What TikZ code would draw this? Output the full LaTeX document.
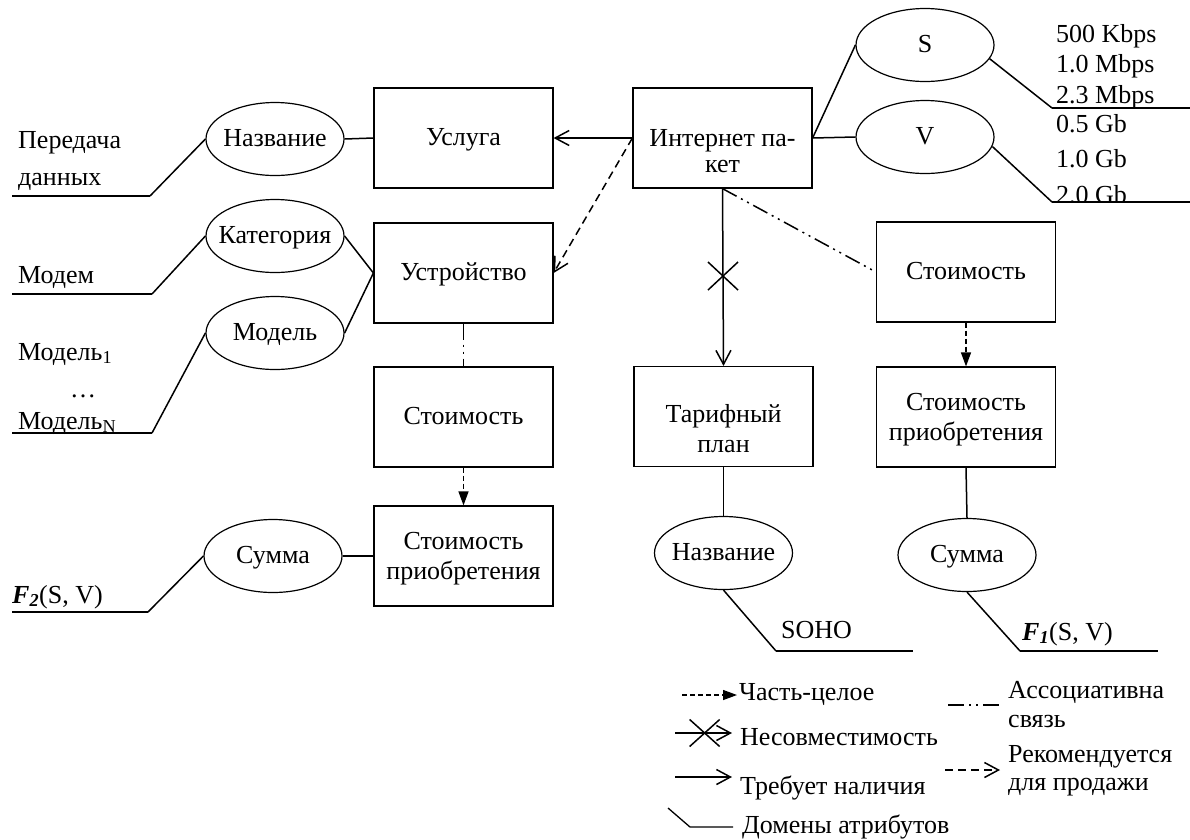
\documentclass[tikz,border=0pt]{standalone}
\usepackage{fontspec}
\setmainfont{Liberation Serif}
\usetikzlibrary{arrows.meta,shapes.geometric}

% centred / left-aligned stacks of lines; the baseline is that of the first line
\newcommand\stackc[2][30pt]{\vtop{\baselineskip=#1\relax\halign{\hfil##\hfil\cr#2\crcr}}}
\newcommand\stackl[2][30pt]{\vtop{\baselineskip=#1\relax\halign{##\hfil\cr#2\crcr}}}
% zero-width text, so that an ellipse keeps its own size
\newcommand\zw[1]{\makebox[0pt]{#1}}

\begin{document}
\begin{tikzpicture}[x=1pt,y=-1pt,
  font=\fontsize{26}{30}\selectfont,
  box/.style={draw,line width=1.2pt,minimum width=179pt,minimum height=100pt,inner sep=0pt,
              text height=18pt,text depth=4pt},
  box2/.style={box,text height=20pt,text depth=34pt},
  attr/.style={draw,ellipse,line width=1.2pt,minimum width=138pt,minimum height=73pt,inner sep=0pt,
               text height=18pt,text depth=4pt},
  txt/.style={inner sep=0pt,anchor=base},
  txtl/.style={inner sep=0pt,anchor=base west},
  link/.style={line width=1.5pt},
  dom/.style={line width=2.8pt},
  barb/.style={-{Straight Barb[length=14pt,width=15pt]}},
  part/.style={line width=1.3pt,dash pattern=on 5pt off 3pt,-{Triangle[length=14pt,width=10pt]}},
  rec/.style={line width=1.5pt,dash pattern=on 8pt off 5pt,barb},
  assoc/.style={line width=1.5pt,dash pattern=on 16pt off 5pt on 2pt off 5pt on 2pt off 5pt},
]
\useasboundingbox (0,0) rectangle (1190,839);

% entities
\node[box] (usluga)   at (463.5,138) {Услуга};
\node[box2,text height=46pt,text depth=30pt] (internet) at (722.5,138) {\stackc[26pt]{Интернет па-\cr кет}};
\node[box] (device)   at (463.5,273) {Устройство};
\node[box] (costL)    at (463.5,417) {Стоимость};
\node[box2] (buyL)    at (463.5,556) {\stackc{Стоимость\cr приобретения}};
\node[box2,text height=45pt] (tarif) at (723.5,416.5) {\stackc{Тарифный\cr план}};
\node[box] (costR)    at (966,272) {Стоимость};
\node[box2] (buyR)    at (966,417) {\stackc{Стоимость\cr приобретения}};

% attributes
\node[attr] (nameT) at (275,139) {\zw{Название}};
\node[attr] (categ) at (275,236) {\zw{Категория}};
\node[attr] (model) at (275,333) {\zw{Модель}};
\node[attr] (sumL)  at (273,556) {\zw{Сумма}};
\node[attr] (S)     at (925,45)  {\zw{S}};
\node[attr] (V)     at (925,137) {\zw{V}};
\node[attr] (nameB) at (723.5,553) {\zw{Название}};
\node[attr] (sumR)  at (967,555) {\zw{Сумма}};

% relations between entities
\draw[link,barb] (internet.west) -- (usluga.east);
\draw[rec] (internet.west) -- (device.east);
\draw[link,barb] (internet.south) -- coordinate[pos=0.493] (xmark) (tarif.north);
\draw[link] ([shift={(-15,-14)}]xmark) -- ([shift={(15,14)}]xmark);
\draw[link] ([shift={(-15,14)}]xmark) -- ([shift={(15,-14)}]xmark);
\draw[assoc] (internet.south) -- (costR.west);
\draw[assoc] (device.south) -- (costL.north);
\draw[part] (costL.south) -- (buyL.north);
\draw[part] (costR.south) -- (buyR.north);

% entity -- attribute links
\draw[link] (usluga.west) -- (nameT.east);
\draw[link] (device.west) -- (categ.east);
\draw[link] (device.west) -- (model.east);
\draw[link] (buyL.west) -- (sumL.east);
\draw[link] (tarif.south) -- (nameB.north);
\draw[link] (buyR.south) -- (sumR.north);
\draw[link] (internet.east) -- (S.west);
\draw[link] (internet.east) -- (V.west);

% attribute domains
\coordinate (d1) at (150,196);  \coordinate (d1e) at (12,196);
\coordinate (d2) at (152,294);  \coordinate (d2e) at (12,294);
\coordinate (d3) at (152,433);  \coordinate (d3e) at (12,433);
\coordinate (d4) at (148,612);  \coordinate (d4e) at (12,612);
\coordinate (d5) at (776,651);  \coordinate (d5e) at (913,651);
\coordinate (d6) at (1020,651); \coordinate (d6e) at (1158,651);
\coordinate (d7) at (1052,108); \coordinate (d7e) at (1190,108);
\coordinate (d8) at (1052,202); \coordinate (d8e) at (1190,202);

\node[txtl] (t-pd1)   at (18,148) {Передача};
\node[txtl] (t-pd2)   at (18,185) {данных};
\node[txtl] (t-modem) at (18,283) {Модем};
\node[txtl] (t-m1)    at (18,360) {Модель\textsubscript{1}};
\node[txt]  (t-dots)  at (83,397) {…};
\node[txtl] (t-mn)    at (18,429) {Модель\textsubscript{N}};
\node[txtl] (t-f2)    at (12,603) {\textbf{\textit{F}}\textsubscript{\textbf{\textit{2}}}(S, V)};
\node[txtl] (t-soho)  at (781,638) {SOHO};
\node[txtl] (t-f1)    at (1022,640) {\textbf{\textit{F}}\textsubscript{\textbf{\textit{1}}}(S, V)};
\node[txtl] (t-s)     at (1056,42) {\stackl[30.5pt]{500 Kbps\cr 1.0 Mbps\cr 2.3 Mbps}};
\begin{scope}
  \clip (1040,110) rectangle (1190,200.5);
  \node[txtl] (t-v) at (1056,132) {\stackl[35.5pt]{0.5 Gb\cr 1.0 Gb\cr 2.0 Gb}};
\end{scope}

\draw[link] (nameT.west) -- (d1);  \draw[dom] (d1) -- (d1e);
\draw[link] (categ.west) -- (d2);  \draw[dom] (d2) -- (d2e);
\draw[link] (model.west) -- (d3);  \draw[dom] (d3) -- (d3e);
\draw[link] (sumL.west)  -- (d4);  \draw[dom] (d4) -- (d4e);
\draw[link] (nameB.south) -- (d5); \draw[dom] (d5) -- (d5e);
\draw[link] (sumR.south) -- (d6);  \draw[dom] (d6) -- (d6e);
\draw[link] (S.-12) -- (d7);       \draw[dom] (d7) -- (d7e);
\draw[link] (V.-8) -- (d8);        \draw[dom] (d8) -- (d8e);

% legend
\coordinate (l1a) at (682,695); \coordinate (l1b) at (737,695);
\draw[part] (l1a) -- (l1b);
\node[txtl] (lt1) at (739,700) {Часть-целое};

\coordinate (l2a) at (675,733); \coordinate (l2b) at (732,733);
\draw[link,barb] (l2a) -- coordinate[pos=0.52] (l2x) (l2b);
\draw[link] ([shift={(-15,-13.5)}]l2x) -- ([shift={(15,13.5)}]l2x);
\draw[link] ([shift={(-15,13.5)}]l2x) -- ([shift={(15,-13.5)}]l2x);
\node[txtl] (lt2) at (740,745) {Несовместимость};

\coordinate (l3a) at (675,777); \coordinate (l3b) at (732,777);
\draw[link,barb] (l3a) -- (l3b);
\node[txtl] (lt3) at (740,794) {Требует наличия};

\coordinate (l4a) at (668,808); \coordinate (l4b) at (690,827); \coordinate (l4c) at (733,827);
\draw[line width=1.3pt] (l4a) -- (l4b) -- (l4c);
\node[txtl] (lt4) at (742,833) {Домены атрибутов};

\coordinate (l5a) at (948,705); \coordinate (l5b) at (1000,705);
\draw[assoc] (l5a) -- (l5b);
\node[txtl] (lt5) at (1008,698) {\stackl[29pt]{Ассоциативна\cr связь}};

\coordinate (l6a) at (945,770); \coordinate (l6b) at (1000,770);
\draw[rec] (l6a) -- (l6b);
\node[txtl] (lt6) at (1008,762) {\stackl[28pt]{Рекомендуется\cr для продажи}};
\end{tikzpicture}
\end{document}
